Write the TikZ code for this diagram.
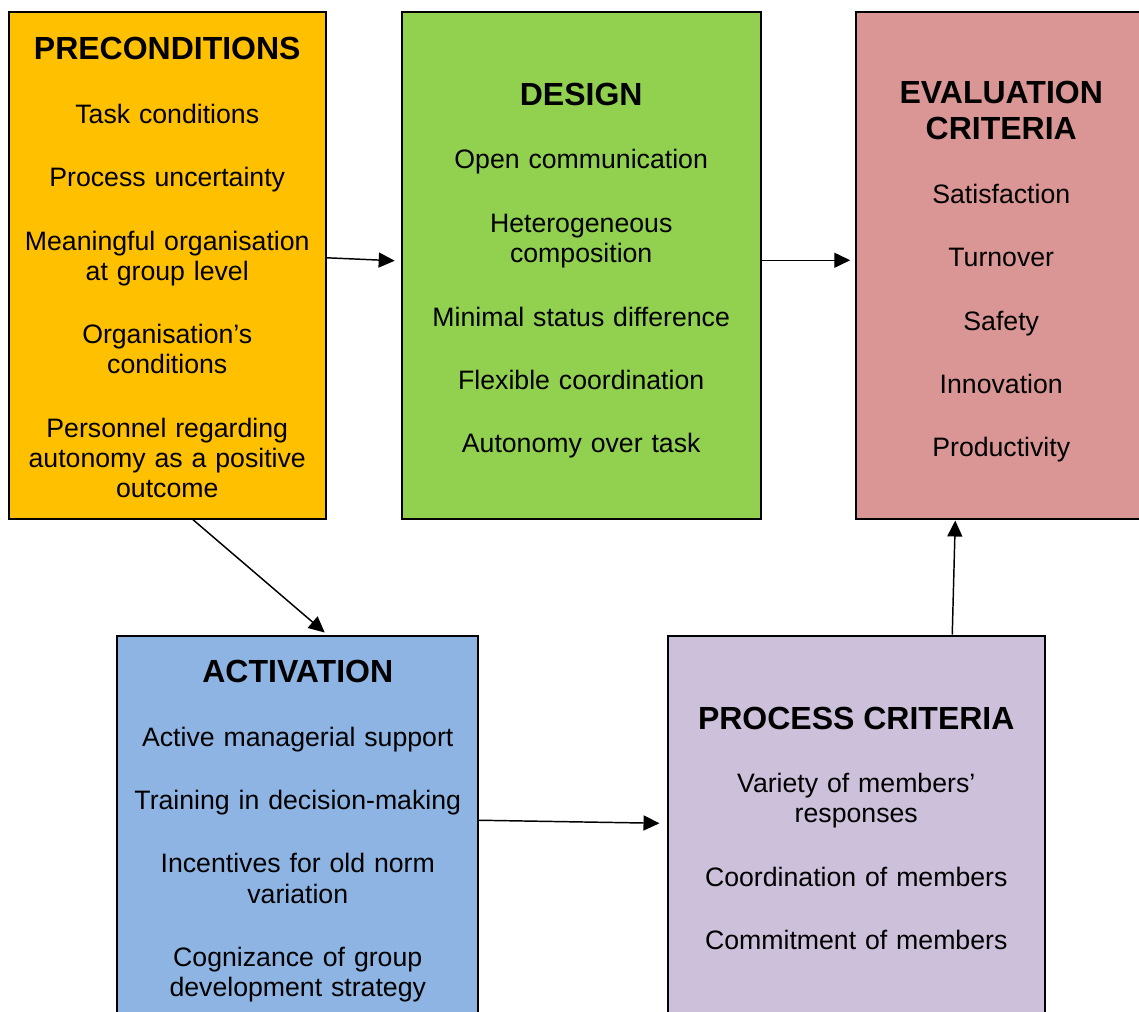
\documentclass[tikz,border=0pt]{standalone}
\usepackage{fontspec}
\setmainfont{Liberation Sans}
\usepackage{tikz}
\usetikzlibrary{arrows.meta, positioning, calc}
\usepackage{xcolor}
\definecolor{precol}{HTML}{FFC000}
\definecolor{descol}{HTML}{92D050}
\definecolor{evacol}{HTML}{DA9694}
\definecolor{actcol}{HTML}{8DB4E2}
\definecolor{procol}{HTML}{CCC0DA}
\newcommand{\titlefont}{\fontsize{24}{27.3}\selectfont\bfseries}
\newcommand{\itemgap}{\par\vspace{25pt}}

\begin{document}
\begin{tikzpicture}[
    x=0.75pt, y=-0.75pt,
    box/.style={
        draw, rectangle, line width=1.5pt,
        inner sep=0pt, outer sep=0pt
    },
    txt/.style={
        align=center, inner sep=0pt, outer sep=0pt,
        font={\fontsize{20}{22.6}\selectfont\setlength{\parindent}{0pt}}
    },
    arr/.style={-{Triangle[length=12pt, width=11.25pt]}, line width=1.1pt}
]
    \useasboundingbox (0,0) rectangle (1139,1011);
    \clip (0,0) rectangle (1139,1011);
    \node[box, fill=precol, minimum width=238.1pt, minimum height=379.9pt] (pre) at (167.25,265.75) {};
    \node[box, fill=descol, minimum width=269.25pt, minimum height=379.9pt] (des) at (581.2,265.75) {};
    \node[box, fill=evacol, minimum width=217.5pt, minimum height=379.9pt] (eva) at (1001.25,265.75) {};
    \node[box, fill=actcol, minimum width=270.4pt, minimum height=289.1pt] (act) at (297.75,828.25) {};
    \node[box, fill=procol, minimum width=283.1pt, minimum height=289.1pt] (pro) at (856.25,828.25) {};

    \node[txt, text width=225pt, below=18.6pt of pre.north] (pretxt) {{\titlefont PRECONDITIONS\par}\itemgap
        Task conditions\itemgap
        Process uncertainty\itemgap
        Meaningful organisation\\ at group level\itemgap
        Organisation’s\\ conditions\itemgap
        Personnel regarding\\ autonomy as a positive\\ outcome};
    \node[txt, text width=255pt, below=53pt of des.north] (destxt) {{\titlefont DESIGN\par}\itemgap
        Open communication\itemgap
        Heterogeneous\\ composition\itemgap
        Minimal status difference\itemgap
        Flexible coordination\itemgap
        Autonomy over task};
    \node[txt, text width=195pt, below=51.3pt of eva.north] (evatxt) {{\titlefont EVALUATION\\ CRITERIA\par}\itemgap
        Satisfaction\itemgap
        Turnover\itemgap
        Safety\itemgap
        Innovation\itemgap
        Productivity};
    \node[txt, text width=255pt, below=18.5pt of act.north] (acttxt) {{\titlefont ACTIVATION\par}\itemgap
        Active managerial support\itemgap
        Training in decision-making\itemgap
        Incentives for old norm\\ variation\itemgap
        Cognizance of group\\ development strategy};
    \node[txt, text width=270pt, below=53.6pt of pro.north] (protxt) {{\titlefont PROCESS CRITERIA\par}\itemgap
        Variety of members’\\ responses\itemgap
        Coordination of members\itemgap
        Commitment of members};

    \draw[arr] ($(pre.east)+(0,-8)$) -- ($(des.west)+(-7,-5)$);
    \draw[arr] ($(des.east)+(0,-5.5)$) -- ($(eva.west)+(-6,-5.5)$);
    \draw[arr] ($(pre.south)+(25,0)$) -- ($(act.north)+(27,-3)$);
    \draw[arr] ($(act.east)+(1,-8)$) -- ($(pro.west)+(-8,-5)$);
    \draw[arr] ($(pro.north)+(96,-1)$) -- ($(eva.south)+(-46,1.5)$);
\end{tikzpicture}
\end{document}
